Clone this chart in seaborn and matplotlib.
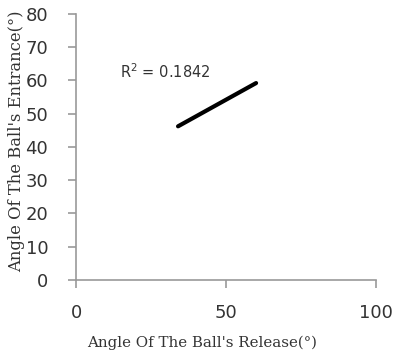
import matplotlib
matplotlib.use("Agg")
import matplotlib.pyplot as plt
import seaborn as sns
import pandas as pd

release = [34, 60]
entrance = [46.2, 59.2]
r2_label = "R$^2$ = 0.1842"
x_ticks = [0, 50, 100]
y_ticks = [0, 10, 20, 30, 40, 50, 60, 70, 80]

sns.set_theme(style="white")
plt.rcParams['font.family'] = ['DejaVu Sans']

fig = plt.figure(figsize=(3.98, 3.56), dpi=100)
ax = fig.add_axes([0.191, 0.2135, 0.754, 0.7475])

df = pd.DataFrame({"x": release, "y": entrance})
sns.lineplot(data=df, x="x", y="y", ax=ax, color="black", linewidth=3)

ax.set_xlim(0, 100)
ax.set_ylim(0, 80)
ax.set_xticks(x_ticks)
ax.set_yticks(y_ticks)
ax.tick_params(axis="both", bottom=True, left=True, labelsize=13, colors="#999999",
               length=6, width=1.2, direction="out", labelcolor="#333333")
ax.tick_params(axis="x", pad=11)
ax.tick_params(axis="y", pad=14)
for s in ["top", "right"]:
    ax.spines[s].set_visible(False)
for s in ["left", "bottom"]:
    ax.spines[s].set_color("#999999")
    ax.spines[s].set_linewidth(1.2)

ax.set_xlabel("Angle Of The Ball's Release(°)", family="DejaVu Serif", fontsize=10.8, color="#333333")
ax.set_ylabel("Angle Of The Ball's Entrance(°)", family="DejaVu Serif", fontsize=11.8, color="#333333")
ax.xaxis.set_label_coords(0.42, -0.21)
ax.yaxis.set_label_coords(-0.17, 0.52)

ax.text(14.5, 62.7, r2_label, fontsize=10.5, color="#333333", va="center", ha="left")

fig.savefig("out.png", dpi=100)
